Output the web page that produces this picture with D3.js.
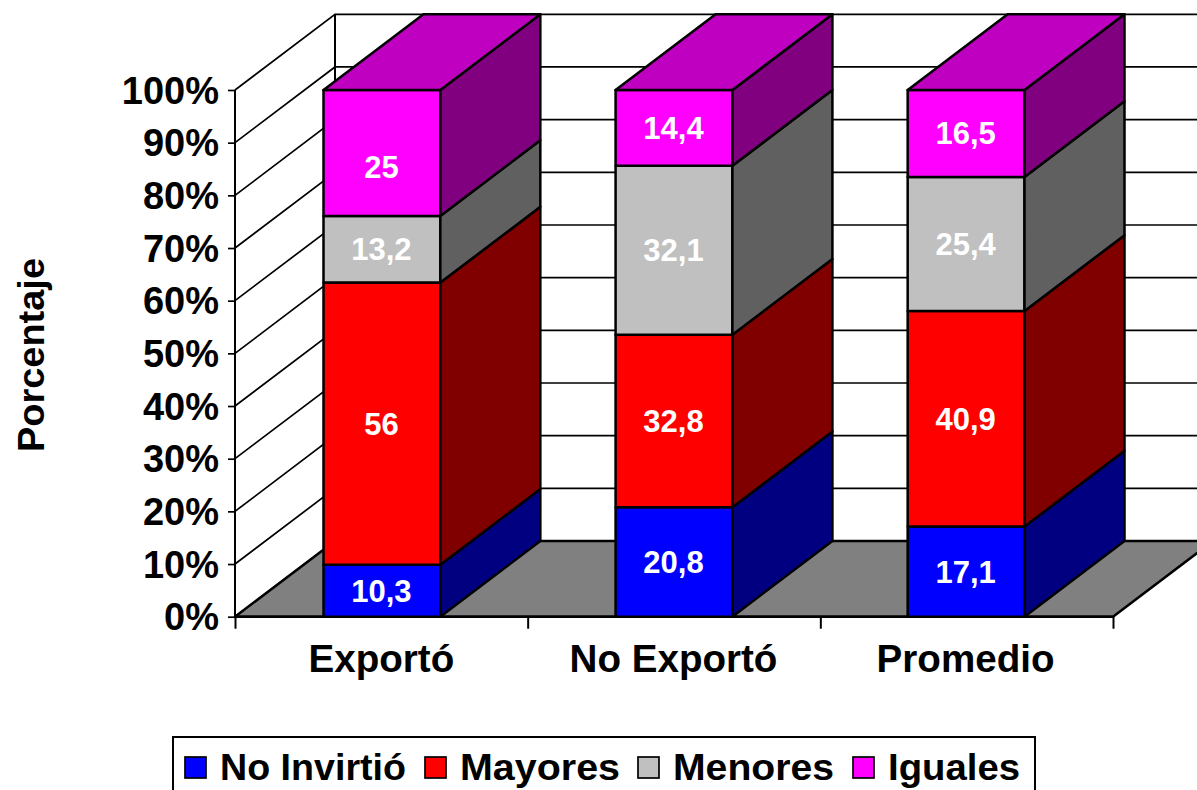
<!DOCTYPE html>
<meta charset="utf-8">
<head>
  <style>
    html, body { margin: 0; background: #fff; overflow: hidden; }
    text { font-family: "Liberation Sans", Arial, sans-serif; font-weight: bold; }
    .tick text { font-size: 38px; fill: #000; }
    .lbl { font-size: 31px; fill: #fff; text-anchor: middle; }
    .cat { font-size: 38.6px; text-anchor: middle; }
    .leg { font-size: 37px; }
  </style>
</head>
<body>
<svg id="chart" width="1197" height="790"></svg>
<script src="https://d3js.org/d3.v7.min.js"></script>
<script>

var categories = ["Exportó", "No Exportó", "Promedio"];
var seriesNames = ["No Invirtió", "Mayores", "Menores", "Iguales"];
var noInvirtio = [10.3, 20.8, 17.1];
var mayores = [56, 32.8, 40.9];
var menores = [13.2, 32.1, 25.4];
var iguales = [25, 14.4, 16.5];
var valueLabels = [
  ["10,3", "20,8", "17,1"],
  ["56", "32,8", "40,9"],
  ["13,2", "32,1", "25,4"],
  ["25", "14,4", "16,5"]
];
var frontColors = ["#0000ff", "#ff0000", "#c0c0c0", "#ff00ff"];
var sideColors = ["#000080", "#800000", "#606060", "#800080"];
var topColor = "#c000c0";
var yTicks = [0, .1, .2, .3, .4, .5, .6, .7, .8, .9, 1];

var dx = 100, dy = -75.7; // 3d depth offset
var left = 235, right = 1113;

var svg = d3.select("#chart");

var x = d3.scaleBand().domain(categories).range([left, right])
  .paddingInner(.6).paddingOuter(.303);
var xEdges = d3.scalePoint().domain(["a", "b", "c", "d"]).range([left, right]);
var y = d3.scaleLinear().domain([0, 1]).range([616.7, 90]);

var rows = categories.map(function(c, i) {
  return { cat: c, s0: noInvirtio[i], s1: mayores[i], s2: menores[i], s3: iguales[i] };
});
var stack = d3.stack().keys(["s0", "s1", "s2", "s3"]).offset(d3.stackOffsetExpand);
var layers = stack(rows);

function poly(pts, fill, w) {
  return svg.append("polygon")
    .attr("points", pts.map(function(p) { return p.join(","); }).join(" "))
    .attr("fill", fill)
    .attr("stroke", "#000")
    .attr("stroke-width", w || 2.5)
    .attr("stroke-linejoin", "round");
}

// walls
yTicks.forEach(function(t) {
  svg.append("path")
    .attr("d", "M" + left + "," + y(t) + "L" + (left + dx) + "," + (y(t) + dy) + "H" + (right + dx))
    .attr("fill", "none").attr("stroke", "#000").attr("stroke-width", 1.7);
});
svg.append("line")
  .attr("x1", left + dx).attr("x2", left + dx)
  .attr("y1", y(1) + dy).attr("y2", y(0) + dy)
  .attr("stroke", "#000").attr("stroke-width", 2);

// floor
poly([[left, y(0)], [left + dx, y(0) + dy], [right + dx, y(0) + dy], [right, y(0)]], "#808080");

// y axis
svg.append("g")
  .attr("transform", "translate(" + left + ",0)")
  .call(d3.axisLeft(y).tickValues(yTicks).tickSize(7).tickPadding(9).tickFormat(d3.format(".0%")))
  .call(function(g) {
    g.select(".domain").attr("stroke-width", 2).attr("d", "M0," + y(1) + "V" + y(0));
    g.selectAll(".tick line").attr("stroke-width", 1.7);
    g.selectAll(".tick text").attr("y", 1);
  });

// x axis, ticks sit between the categories
svg.append("g")
  .attr("transform", "translate(0," + y(0) + ")")
  .call(d3.axisBottom(xEdges).tickSize(12).tickFormat(""))
  .call(function(g) {
    g.select(".domain").attr("stroke-width", 2.5).attr("d", "M" + left + ",0H" + right);
    g.selectAll(".tick line").attr("stroke-width", 2);
  });

svg.selectAll(".cat").data(categories).enter().append("text")
  .attr("class", "cat")
  .attr("x", function(d) { return x(d) + x.bandwidth() / 2 - .5; })
  .attr("y", 672)
  .text(function(d) { return d; });

// bars
categories.forEach(function(c, i) {
  var x0 = x(c), x1 = x0 + x.bandwidth();
  layers.forEach(function(layer, k) {
    var yb = y(layer[i][0]), yt = y(layer[i][1]);
    poly([[x0, yb], [x1, yb], [x1, yt], [x0, yt]], frontColors[k]);
    poly([[x1, yb], [x1 + dx, yb + dy], [x1 + dx, yt + dy], [x1, yt]], sideColors[k]);
    if (k == layers.length - 1) {
      poly([[x0, yt], [x1, yt], [x1 + dx, yt + dy], [x0 + dx, yt + dy]], topColor);
    }
    // the 25 label sits lower than the middle of its segment in the original
    var nudge = valueLabels[k][i] == "25" ? 14 : 0;
    svg.append("text")
      .attr("class", "lbl")
      .attr("x", (x0 + x1) / 2 - .5)
      .attr("y", (yb + yt) / 2 + 11 + nudge)
      .text(valueLabels[k][i]);
  });
});

// axis title
svg.append("text")
  .attr("transform", "translate(44,355) rotate(-90)")
  .attr("text-anchor", "middle")
  .attr("font-size", 37)
  .attr("textLength", 194)
  .attr("lengthAdjust", "spacingAndGlyphs")
  .text("Porcentaje");

// legend
var legendX = [185, 425, 638, 853];
var legendWidths = [186, 160, 161, 132];
svg.append("rect")
  .attr("x", 173).attr("y", 737).attr("width", 862).attr("height", 70)
  .attr("fill", "#fff").attr("stroke", "#000").attr("stroke-width", 2);
seriesNames.forEach(function(name, k) {
  svg.append("rect")
    .attr("x", legendX[k]).attr("y", 757).attr("width", 21).attr("height", 21)
    .attr("fill", frontColors[k]).attr("stroke", "#000").attr("stroke-width", 1.7);
  svg.append("text")
    .attr("class", "leg")
    .attr("x", legendX[k] + 35).attr("y", 780)
    .attr("textLength", legendWidths[k])
    .attr("lengthAdjust", "spacingAndGlyphs")
    .text(name);
});
</script>
